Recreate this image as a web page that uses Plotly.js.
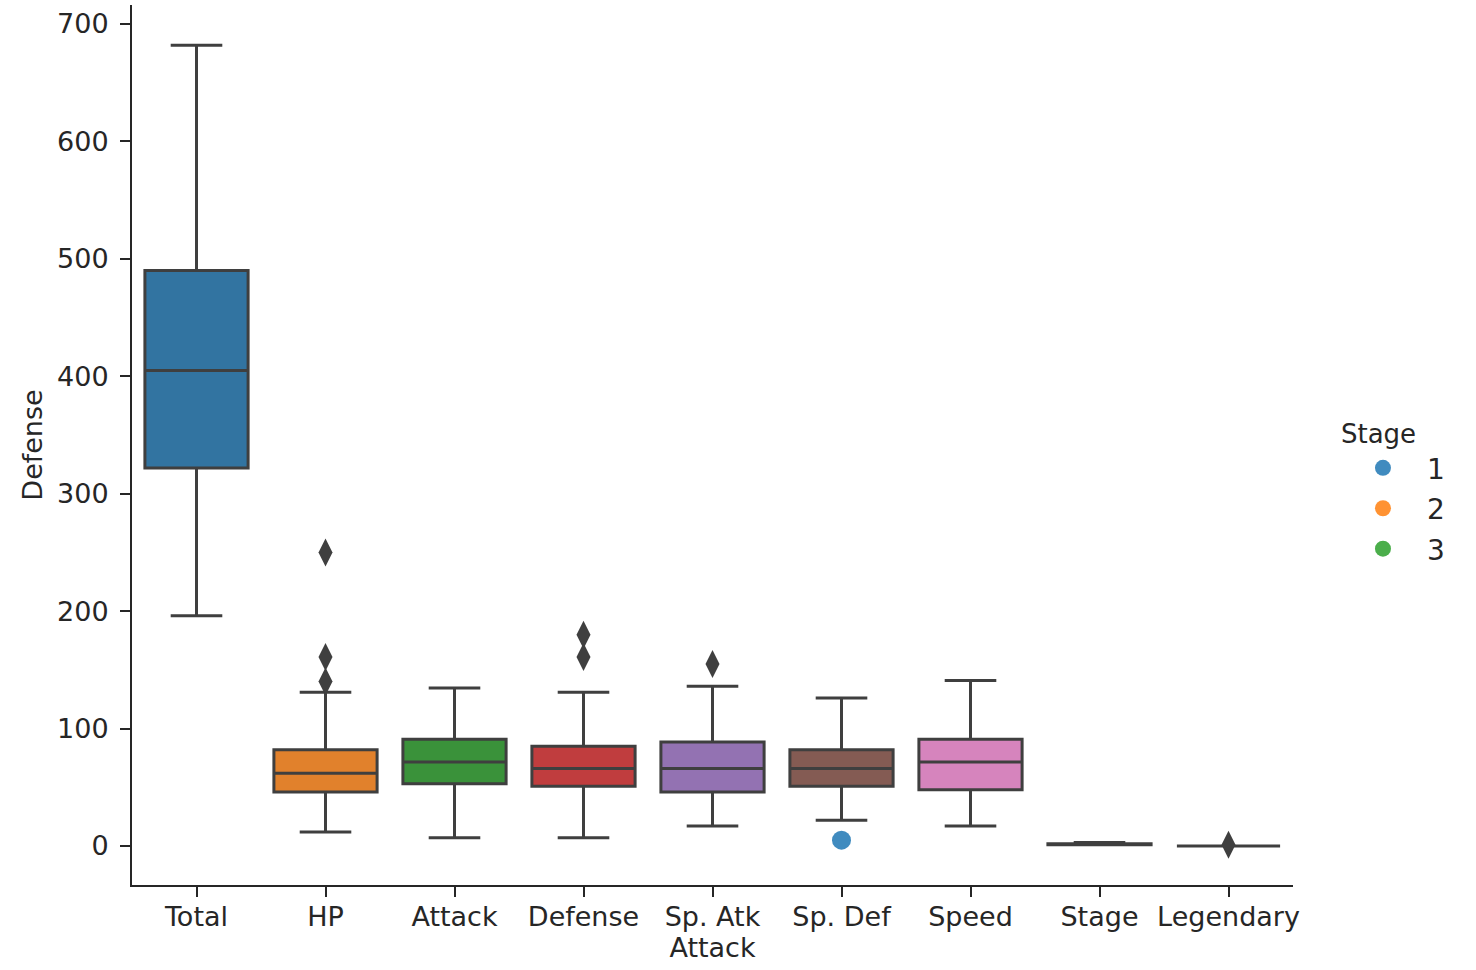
<!DOCTYPE html>
<html><head><meta charset="utf-8">
<script src="https://cdn.plot.ly/plotly-3.0.1.min.js"></script>
<style>html,body{margin:0;padding:0;background:#fff}#chart{width:1476px;height:970px}</style>
</head><body><div id="chart"></div>
<script>
const categories = ["Total","HP","Attack","Defense","Sp. Atk","Sp. Def","Speed","Stage","Legendary"];
const q1Values     = [322, 46, 53, 51, 46, 51, 48, 1, 0];
const medianValues = [405, 62, 71.5, 66, 66, 66, 71.5, 1, 0];
const q3Values     = [490, 82, 91, 85, 88.5, 82, 91, 2, 0];
const lowerValues  = [196, 12, 7, 7, 17, 22, 17, 1, 0];
const upperValues  = [682, 131, 134.5, 131, 136, 126, 141, 3, 0];
const boxColors = ["#3274a1","#e1812c","#3a923a","#c03d3e","#9372b2","#845b53","#d684bd","#7f7f7f","#a9aa35"];
const outlierCats   = ["HP","HP","HP","Defense","Defense","Sp. Atk","Legendary"];
const outlierValues = [250, 161, 140, 180, 161, 155, 1];
const stageNames = ["1","2","3"];
const stageColors = ["rgba(31,119,180,0.85)","rgba(255,127,14,0.85)","rgba(44,160,44,0.85)"];
const stagePointCats = [["Sp. Def"],[null],[null]];
const stagePointValues = [[5],[null],[null]];

const lineColor = "#3f3f3f";
const traces = [];
categories.forEach((c,i)=>{
  traces.push({
    type:"box", x:[c], q1:[q1Values[i]], median:[medianValues[i]], q3:[q3Values[i]],
    lowerfence:[lowerValues[i]], upperfence:[upperValues[i]],
    fillcolor:boxColors[i], line:{color:lineColor,width:3}, width:0.8, whiskerwidth:0.5,
    showlegend:false, hoverinfo:"skip", boxpoints:false
  });
});
traces.push({type:"scatter", mode:"markers", x:outlierCats, y:outlierValues,
  marker:{symbol:"diamond-tall", size:20, color:lineColor}, showlegend:false, hoverinfo:"skip"});
stageNames.forEach((s,i)=>{
  traces.push({type:"scatter", mode:"markers", name:s, legendgroup:"g"+s, x:stagePointCats[i], y:stagePointValues[i],
    marker:{size:19, color:stageColors[i]}, showlegend:true});
});

const font = {family:"DejaVu Sans, sans-serif", size:27, color:"#262626"};
const layout = {
  width:1476, height:970, paper_bgcolor:"#fff", plot_bgcolor:"#fff",
  margin:{l:132, r:183, t:5, b:85}, font:font, boxmode:"overlay",
  xaxis:{type:"category", categoryorder:"array", categoryarray:categories, range:[-0.5,8.5],
    showline:true, linecolor:"#262626", linewidth:2, ticks:"outside", ticklen:10, tickwidth:2, tickcolor:"#262626",
    showgrid:false, zeroline:false, tickfont:{size:27, color:"#262626"}, automargin:false, ticklabelstandoff:-3,
    title:{text:"Attack", font:{size:27}, standoff:6}},
  yaxis:{range:[-33.2,716.2], tickvals:[0,100,200,300,400,500,600,700],
    showline:true, linecolor:"#262626", linewidth:2, ticks:"outside", ticklen:10, tickwidth:2, tickcolor:"#262626",
    showgrid:false, zeroline:false, tickfont:{size:27, color:"#262626"}, automargin:false, ticklabelstandoff:6,
    title:{text:"Defense", font:{size:27}, standoff:7}},
  legend:{title:{text:"Stage", font:{size:26}}, x:1.0396, y:0.5405, xanchor:"left", yanchor:"top",
    font:{size:28}, itemwidth:78, tracegroupgap:1, traceorder:"grouped", bgcolor:"rgba(0,0,0,0)"},
};
Plotly.newPlot("chart", traces, layout, {displayModeBar:false, staticPlot:true});
</script></body></html>
